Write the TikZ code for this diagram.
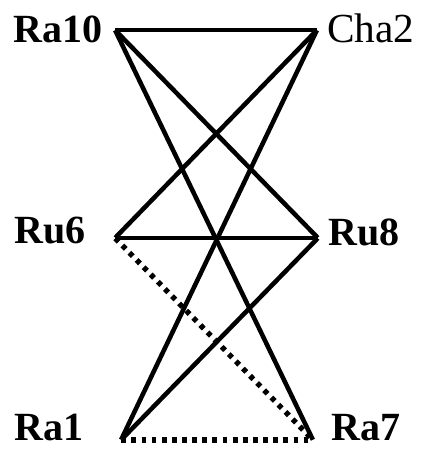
\documentclass[tikz,border=0pt]{standalone}
\usepackage{fontspec}
\setmainfont{Liberation Serif}
\usetikzlibrary{positioning}

\begin{document}
\begin{tikzpicture}[
		x=0.75pt, y=-0.75pt,
		vertex/.style={inner sep=0pt, minimum size=0pt},
		namelbl/.style={inner sep=0pt, font=\fontsize{30}{30}\selectfont\bfseries},
		link/.style={line width=3.4pt, black},
		dotlink/.style={line width=4pt, black, dash pattern=on 3.6pt off 4pt}
		]
		\useasboundingbox (0,0) rectangle (424,449);
		% Vertices
		\node[vertex] (ra10) at (115,30) {};
		\node[vertex] (cha2) at (317,30) {};
		\node[vertex] (ru6) at (115,238) {};
		\node[vertex] (ru8) at (318,238) {};
		\node[vertex] (ra1) at (121,440) {};
		\node[vertex] (ra7) at (313,440) {};
		
		% Names
		\node[namelbl, anchor=base west] (lra10) at (13,43) {Ra10};
		\node[namelbl, anchor=base west, font=\fontsize{31}{31}\selectfont] (lcha2) at (327,43) {Cha2};
		\node[namelbl, anchor=base west] (lru6) at (14,243) {Ru6};
		\node[namelbl, anchor=base west] (lru8) at (328,245) {Ru8};
		\node[namelbl, anchor=base west] (lra1) at (14,440) {Ra1};
		\node[namelbl, anchor=base west] (lra7) at (331,440) {Ra7};
		
		% Solid links
		\draw[link] (ra10) -- (cha2);
		\draw[link] (ra10) -- (ru8);
		\draw[link] (ra10) -- (ra7);
		\draw[link] (cha2) -- (ru6);
		\draw[link] (cha2) -- (ra1);
		\draw[link] (ru6) -- (ru8);
		\draw[link] (ru8) -- (ra1);
		
		% Dotted links
		\draw[dotlink] (ru6) -- (ra7);
		\draw[dotlink] (ra1) -- (ra7);
	\end{tikzpicture}
\end{document}
